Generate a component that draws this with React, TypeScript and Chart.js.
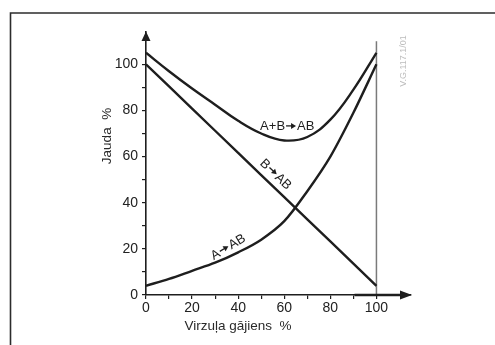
import React, { useEffect, useRef } from "react";
import { Chart, registerables } from "chart.js";

Chart.register(...registerables);

// Data
const strokeX = [0, 10, 20, 30, 40, 50, 60, 70, 80, 90, 100];
const aToAB = [4, 7, 10.5, 14, 18.5, 24, 32, 45, 60, 79, 100];
const bToAB = [100, 90.4, 80.8, 71.2, 61.6, 52, 42.4, 32.8, 23.2, 13.6, 4];
const abToAB = [105, 97, 89.5, 82.5, 75.5, 70, 67, 68.5, 76, 89, 105];
const xTickValues = [0, 10, 20, 30, 40, 50, 60, 70, 80, 90, 100];
const yTickValues = [0, 10, 20, 30, 40, 50, 60, 70, 80, 90, 100];
const xTitle = "Virzuļa gājiens  %";
const yTitle = "Jauda  %";
const watermark = "V.G.117.1/01";
const curveLabels = [
  { text: "A+B→AB", x: 61.3, y: 73.3, angle: 0 },
  { text: "B→AB", x: 56.5, y: 52.5, angle: 43.8 },
  { text: "A→AB", x: 35.5, y: 21, angle: -31 },
];

const FONT = "'Liberation Sans', Arial, sans-serif";
const INK = "#1e1e1e";

function drawArrowLabel(ctx: CanvasRenderingContext2D, text: string) {
  const parts = text.split("→");
  const left = parts[0];
  const right = parts[1] ?? "";
  const arrowW = 10;
  const gap = 1;
  const wl = ctx.measureText(left).width;
  const wr = ctx.measureText(right).width;
  const total = wl + wr + (parts.length > 1 ? arrowW + gap * 2 : 0);
  let x = -total / 2;
  ctx.textAlign = "left";
  ctx.textBaseline = "alphabetic";
  const base = 4.5;
  ctx.fillText(left, x, base);
  x += wl;
  if (parts.length > 1) {
    x += gap;
    const ay = base - 4.5;
    ctx.save();
    ctx.lineWidth = 1.3;
    ctx.strokeStyle = ctx.fillStyle as string;
    ctx.beginPath();
    ctx.moveTo(x, ay);
    ctx.lineTo(x + arrowW - 4, ay);
    ctx.stroke();
    ctx.beginPath();
    ctx.moveTo(x + arrowW, ay);
    ctx.lineTo(x + arrowW - 5, ay - 3);
    ctx.lineTo(x + arrowW - 5, ay + 3);
    ctx.closePath();
    ctx.fill();
    ctx.restore();
    x += arrowW + gap;
    ctx.fillText(right, x, base);
  }
}

const decorPlugin = {
  id: "decor",
  beforeDatasetsDraw(chart: any) {
    const ctx = chart.ctx;
    const xs = chart.scales.x;
    const ys = chart.scales.y;
    ctx.save();
    const x100 = xs.getPixelForValue(100);
    ctx.strokeStyle = "#7a7a7a";
    ctx.lineWidth = 1.5;
    ctx.beginPath();
    ctx.moveTo(x100, ys.getPixelForValue(110));
    ctx.lineTo(x100, ys.getPixelForValue(0));
    ctx.stroke();
    ctx.restore();
  },
  afterDraw(chart: any) {
    const ctx = chart.ctx;
    const xs = chart.scales.x;
    const ys = chart.scales.y;
    const area = chart.chartArea;
    ctx.save();
    // frame
    ctx.strokeStyle = "#2c2c2c";
    ctx.lineWidth = 1.6;
    ctx.beginPath();
    ctx.moveTo(10.5, 345);
    ctx.lineTo(10.5, 13);
    ctx.lineTo(495, 13);
    ctx.stroke();

    // axis arrows
    const x0 = xs.getPixelForValue(0);
    const y0 = ys.getPixelForValue(0);
    ctx.fillStyle = INK;
    ctx.beginPath();
    ctx.moveTo(x0, area.top - 0.5);
    ctx.lineTo(x0 - 4.5, area.top + 9);
    ctx.lineTo(x0 + 4.5, area.top + 9);
    ctx.closePath();
    ctx.fill();
    ctx.beginPath();
    ctx.moveTo(area.right + 1, y0);
    ctx.lineTo(area.right - 11, y0 - 4.5);
    ctx.lineTo(area.right - 11, y0 + 4.5);
    ctx.closePath();
    ctx.fill();
    ctx.strokeStyle = INK;
    ctx.lineWidth = 2.4;
    ctx.beginPath();
    ctx.moveTo(xs.getPixelForValue(90.5), y0);
    ctx.lineTo(area.right - 8, y0);
    ctx.stroke();

    // axis titles
    ctx.fillStyle = "#2a2a2a";
    ctx.font = `13.5px ${FONT}`;
    ctx.textAlign = "center";
    ctx.textBaseline = "middle";
    ctx.fillText(xTitle, 238, 326);
    ctx.save();
    ctx.translate(107, 136);
    ctx.rotate(-Math.PI / 2);
    ctx.fillText(yTitle, 0, 0);
    ctx.restore();

    // curve labels
    ctx.font = `13px ${FONT}`;
    ctx.fillStyle = "#1e1e1e";
    for (const l of curveLabels) {
      ctx.save();
      ctx.translate(xs.getPixelForValue(l.x), ys.getPixelForValue(l.y));
      ctx.rotate((l.angle * Math.PI) / 180);
      drawArrowLabel(ctx, l.text);
      ctx.restore();
    }

    // watermark
    ctx.fillStyle = "#bdbdbd";
    ctx.font = `9px ${FONT}`;
    ctx.textAlign = "center";
    ctx.textBaseline = "middle";
    ctx.save();
    ctx.translate(404, 61);
    ctx.rotate(-Math.PI / 2);
    ctx.fillText(watermark, 0, 0);
    ctx.restore();
    ctx.restore();
  },
};

export default function App() {
  const ref = useRef<HTMLCanvasElement | null>(null);
  useEffect(() => {
    if (!ref.current) return;
    const mk = (ys: number[]) => strokeX.map((x, i) => ({ x, y: ys[i] }));
    const common = {
      borderColor: INK,
      borderWidth: 2.4,
      pointRadius: 0,
      fill: false,
    };
    const chart = new Chart(ref.current, {
      type: "line",
      data: {
        datasets: [
          { ...common, label: "A+B→AB", data: mk(abToAB), tension: 0.4 },
          { ...common, label: "B→AB", data: mk(bToAB), tension: 0 },
          { ...common, label: "A→AB", data: mk(aToAB), cubicInterpolationMode: "monotone" },
        ],
      } as any,
      options: {
        animation: false,
        responsive: true,
        maintainAspectRatio: false,
        layout: { padding: { left: 0, top: 32, right: 84, bottom: 0 } },
        plugins: { legend: { display: false }, tooltip: { enabled: false } },
        scales: {
          x: {
            type: "linear",
            min: 0,
            max: 115,
            afterBuildTicks: (axis: any) => {
              axis.ticks = xTickValues.map((v) => ({ value: v }));
            },
            afterFit: (axis: any) => {
              axis.height = 50;
            },
            border: { display: true, color: INK, width: 1.6 },
            grid: { drawOnChartArea: false, drawTicks: true, tickLength: 4, color: INK, lineWidth: 1.2 },
            ticks: {
              padding: 1,
              color: "#222",
              font: { size: 14, family: FONT },
              maxRotation: 0,
              autoSkip: false,
              callback: (v: any) => (Number(v) % 20 === 0 ? String(v) : ""),
            },
          },
          y: {
            type: "linear",
            min: 0,
            max: 114,
            afterBuildTicks: (axis: any) => {
              axis.ticks = yTickValues.map((v) => ({ value: v }));
            },
            afterFit: (axis: any) => {
              axis.width = 146;
            },
            border: { display: true, color: INK, width: 1.6 },
            grid: { drawOnChartArea: false, drawTicks: true, tickLength: 4, color: INK, lineWidth: 1.2 },
            ticks: {
              padding: 4,
              color: "#222",
              font: { size: 14, family: FONT },
              autoSkip: false,
              callback: (v: any) => (Number(v) % 20 === 0 ? String(v) : ""),
            },
          },
        },
      } as any,
      plugins: [decorPlugin],
    });
    return () => chart.destroy();
  }, []);
  return (
    <div style={{ position: "absolute", left: 0, top: 0, width: 495, height: 345, background: "#fff" }}>
      <canvas ref={ref} />
    </div>
  );
}
